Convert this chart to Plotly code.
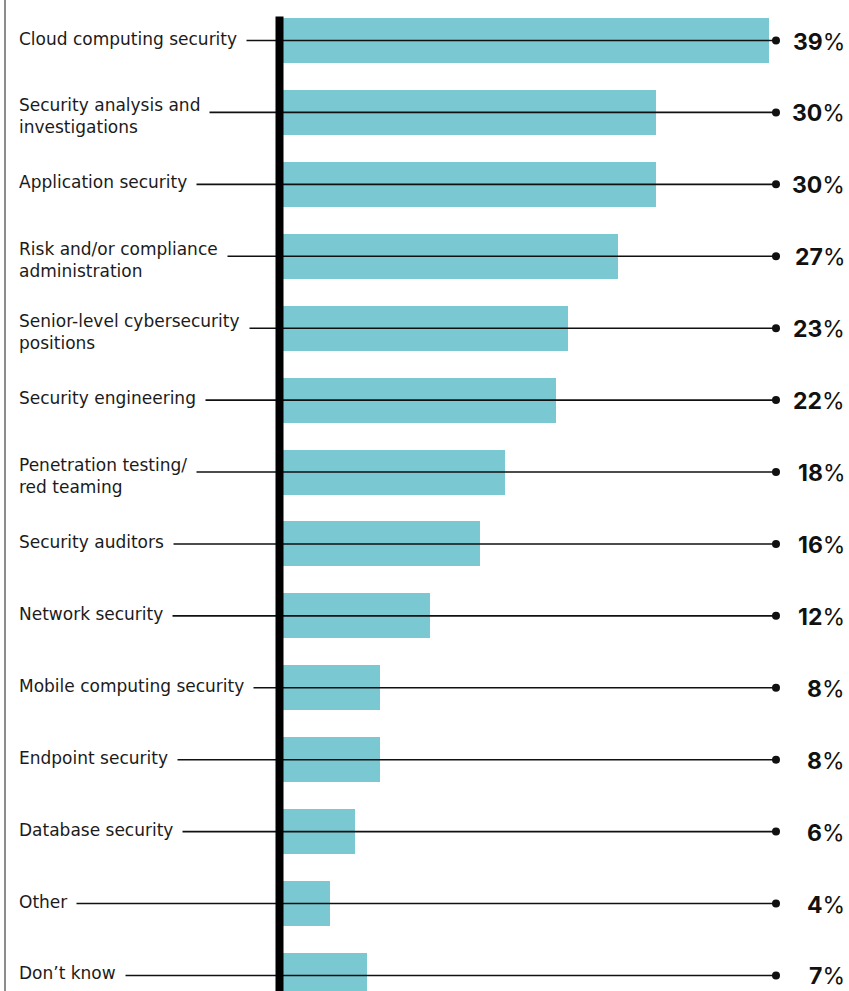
import plotly.graph_objects as go

# Survey responses: areas of cybersecurity in demand
categories = [
    "Cloud computing security",
    "Security analysis and<br>investigations",
    "Application security",
    "Risk and/or compliance<br>administration",
    "Senior-level cybersecurity<br>positions",
    "Security engineering",
    "Penetration testing/<br>red teaming",
    "Security auditors",
    "Network security",
    "Mobile computing security",
    "Endpoint security",
    "Database security",
    "Other",
    "Don\u2019t know",
]
values = [39, 30, 30, 27, 23, 22, 18, 16, 12, 8, 8, 6, 4, 7]

BAR_COLOR = "#7AC8D2"
TEXT_COLOR = "#1b1b1b"
LABEL_FONT = "'DejaVu Sans', sans-serif"
VALUE_FONT = "Inter, 'Noto Sans', sans-serif"

W, H = 849, 991
PX_PER_PCT = 12.55          # horizontal scale
ORIGIN_PX = 279.5           # pixel position of 0%
ROW_PX = 71.92              # vertical spacing between bars
FIRST_ROW_PX = 40.5         # centre of the first bar
BAR_W = 0.626               # bar thickness in row units

x_min = -ORIGIN_PX / PX_PER_PCT
x_max = x_min + W / PX_PER_PCT
y_top = -FIRST_ROW_PX / ROW_PX
y_bottom = y_top + H / ROW_PX

def px_to_x(p):
    return x_min + p / PX_PER_PCT

rows = list(range(len(categories)))
dot_x = px_to_x(776)
line_start = px_to_x(18)

fig = go.Figure()

fig.add_trace(go.Bar(
    x=values, y=rows, orientation="h", base=0,
    width=BAR_W, marker=dict(color=BAR_COLOR, line=dict(width=0)),
    hoverinfo="skip", showlegend=False,
))

# leader lines running from each label across its bar to the end dot
for r in rows:
    fig.add_trace(go.Scatter(
        x=[line_start, dot_x], y=[r, r], mode="lines",
        line=dict(color="#111111", width=1.6),
        hoverinfo="skip", showlegend=False,
    ))

fig.add_trace(go.Scatter(
    x=[dot_x] * len(rows), y=rows, mode="markers",
    marker=dict(color="#111111", size=8),
    hoverinfo="skip", showlegend=False,
))

shapes = [
    # thick baseline at 0%
    dict(type="line", xref="x", yref="y", x0=0, x1=0,
         y0=-BAR_W / 2 - 0.02, y1=y_bottom, line=dict(color="black", width=8),
         layer="above"),
    # thin frame rule on the left edge
    dict(type="line", xref="paper", yref="paper", x0=5 / W, x1=5 / W,
         y0=0, y1=1, line=dict(color="#8c8c8c", width=2)),
]

annotations = []
pad = 9
for r, (cat, v) in enumerate(zip(categories, values)):
    two_lines = "<br>" in cat
    annotations.append(dict(
        xref="paper", yref="y", x=(18 - pad) / W, y=r,
        xanchor="left", yanchor="middle",
        text=cat, showarrow=False, align="left",
        font=dict(family=LABEL_FONT, size=17, color=TEXT_COLOR),
        bgcolor="white", borderpad=pad,
        yshift=-4 if two_lines else 2,
    ))
    annotations.append(dict(
        xref="paper", yref="y", x=847 / W, y=r,
        xanchor="right", yanchor="middle",
        text=f"<b>{v}</b>%", showarrow=False,
        font=dict(family=VALUE_FONT, size=23, color="#111111"),
        yshift=-1,
    ))

fig.update_layout(
    width=W, height=H,
    margin=dict(l=0, r=0, t=0, b=0),
    paper_bgcolor="white", plot_bgcolor="white",
    xaxis=dict(range=[x_min, x_max], visible=False, fixedrange=True),
    yaxis=dict(range=[y_bottom, y_top], visible=False, fixedrange=True),
    shapes=shapes, annotations=annotations,
    bargap=0,
)

fig.write_html("out.html")
